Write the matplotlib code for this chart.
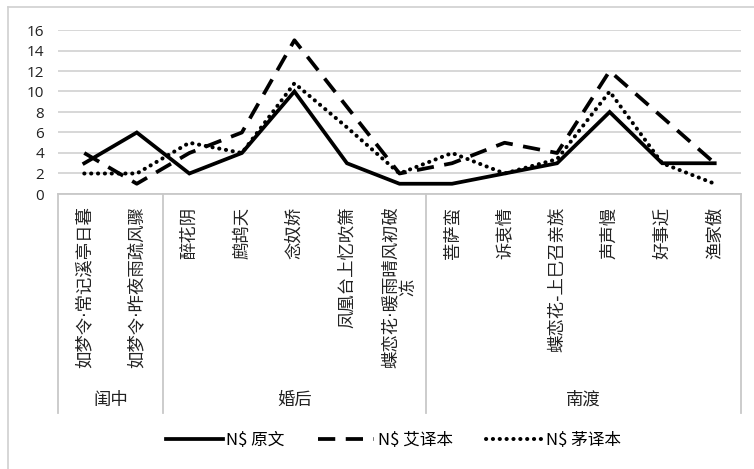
import matplotlib
matplotlib.use("Agg")
import matplotlib.pyplot as plt
from matplotlib.lines import Line2D

plt.rcParams['font.family'] = ['Noto Sans CJK SC', 'DejaVu Sans']

categories = ["如梦令·常记溪亭日暮", "如梦令·昨夜雨疏风骤", "醉花阴", "鹧鸪天", "念奴娇",
              "凤凰台上忆吹箫", "蝶恋花·暖雨晴风初破\n冻", "菩萨蛮", "诉衷情",
              "蝶恋花-上巳召亲族", "声声慢", "好事近", "渔家傲"]
groups = ["闺中", "婚后", "南渡"]
group_sizes = [2, 5, 6]

original = [3, 6, 2, 4, 10, 3, 1, 1, 2, 3, 8, 3, 3]
ai_trans = [4, 1, 4, 6, 15, 8.5, 2, 3, 5, 4, 12, 7.5, 3]
mao_trans = [2, 2, 5, 4, 10.8, 6.5, 2, 4, 2, 3.4, 10, 3, 1]
series_names = ["N$ 原文", "N$ 艾译本", "N$ 茅译本"]
yticks = [0, 2, 4, 6, 8, 10, 12, 14, 16]

W, H = 754, 469
fig = plt.figure(figsize=(W / 100, H / 100), dpi=100)
ax = fig.add_axes([58 / W, 1 - 194 / H, (741 - 58) / W, 164 / H])

x = list(range(len(categories)))
lw = 2.7
ax.plot(x, original, color='black', lw=lw, solid_joinstyle='miter', label=series_names[0])
ax.plot(x, ai_trans, color='black', lw=lw, dashes=(4.6, 2.8), dash_capstyle='butt',
        label=series_names[1])
ax.plot(x, mao_trans, color='black', lw=2.9, dashes=(0.05, 1.65), dash_capstyle='round',
        label=series_names[2])

ax.set_xlim(-0.5, len(categories) - 0.5)
ax.set_ylim(0, 16)
ax.set_yticks(yticks)
ax.set_yticklabels([str(v) for v in yticks], fontsize=11, family=['Open Sans', 'DejaVu Sans'],
                   color='#222222')
ax.yaxis.grid(True, color='#d4d4d4', lw=1.3)
ax.set_axisbelow(True)
for s in ['top', 'right', 'left']:
    ax.spines[s].set_visible(False)
ax.spines['bottom'].set_color('#c8c8c8')
ax.spines['bottom'].set_linewidth(1.3)
ax.tick_params(axis='both', length=0)
ax.tick_params(axis='y', pad=10)
ax.tick_params(axis='x', pad=9)

ax.set_xticks(x)
ax.set_xticklabels(categories, rotation=90, fontsize=12.5, ha='center', va='top',
                   multialignment='center', linespacing=1.0, color='#222222',
                   family=['DejaVu Sans', 'Noto Sans CJK SC'])

trans = ax.get_xaxis_transform()
bounds = [-0.5]
for g in group_sizes:
    bounds.append(bounds[-1] + g)
for b in bounds:
    ax.plot([b, b], [0, -1.335], transform=trans, color='#c8c8c8', lw=1.3, clip_on=False)
for i, name in enumerate(groups):
    cx = (bounds[i] + bounds[i + 1]) / 2
    ax.text(cx, -1.256, name, transform=trans, ha='center', va='center', fontsize=12.5,
            color='#222222')

fig.legend(loc='center', bbox_to_anchor=(0.522, 1 - 440 / H), ncol=3, frameon=False,
           fontsize=12, handlelength=3.4, handletextpad=0.2, columnspacing=2.0)

# outer chart border (top and left visible)
fig.add_artist(Line2D([8 / W, 8 / W], [0, 1 - 7 / H], transform=fig.transFigure,
                      color='#d0d0d0', lw=1.2))
fig.add_artist(Line2D([8 / W, 1], [1 - 7 / H, 1 - 7 / H], transform=fig.transFigure,
                      color='#d0d0d0', lw=1.2))

fig.savefig('out.png', dpi=100)
